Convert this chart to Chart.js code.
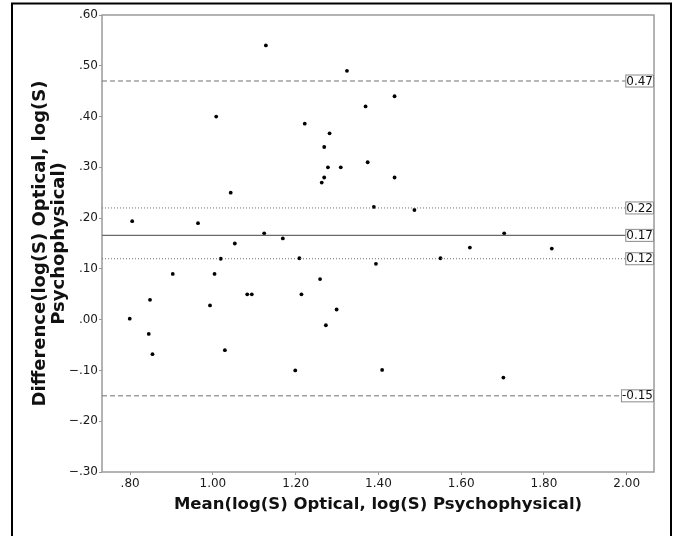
<!DOCTYPE html>
<html>
<head>
<meta charset="utf-8">
<script src="https://cdn.jsdelivr.net/npm/chart.js@4.4.0/dist/chart.umd.min.js"></script>
<style>
  html, body { margin: 0; padding: 0; background: #fff; }
  #wrap { width: 677px; height: 536px; }
</style>
</head>
<body>
<div id="wrap"><canvas id="baChart" width="677" height="536"></canvas></div>
<script>
// mean of the two methods (x) and their difference (y)
const meanVals = [
    1.128, 1.008, 1.043, 0.805, 0.964, 1.124, 1.053, 1.169,
    1.324, 1.439, 1.369, 1.222, 1.282, 1.269, 1.374, 1.278, 1.309, 1.269, 1.439, 1.263, 1.389, 1.487,
    1.704, 1.621, 1.819, 1.550, 1.394,
    1.019, 0.903, 1.004, 0.848, 1.083, 1.094, 0.993, 0.799, 0.845, 0.854, 1.029,
    1.209, 1.259, 1.214, 1.299, 1.273, 1.199, 1.409, 1.702
];
const diffVals = [
    0.540, 0.400, 0.250, 0.194, 0.190, 0.170, 0.150, 0.160,
    0.490, 0.440, 0.420, 0.386, 0.367, 0.340, 0.310, 0.300, 0.300, 0.280, 0.280, 0.270, 0.222, 0.216,
    0.170, 0.142, 0.140, 0.121, 0.110,
    0.120, 0.090, 0.090, 0.039, 0.050, 0.050, 0.028, 0.002, -0.028, -0.068, -0.060,
    0.121, 0.080, 0.050, 0.020, -0.011, -0.100, -0.099, -0.114
];

// reference lines: upper LoA, upper CI, mean, lower CI, lower LoA
const refValues = [0.47, 0.22, 0.166, 0.12, -0.15];
const refLabels = ['0.47', '0.22', '0.17', '0.12', '-0.15'];
const refStyles = ['dash', 'dot', 'solid', 'dot', 'dash'];

const xTicks = [0.8, 1.0, 1.2, 1.4, 1.6, 1.8, 2.0];
const yTicks = [-0.3, -0.2, -0.1, 0.0, 0.1, 0.2, 0.3, 0.4, 0.5, 0.6];
const xMin = 0.732, xMax = 2.066;
const yMin = -0.3, yMax = 0.6;

function fmt(v) {
    const s = Math.abs(v).toFixed(2);
    const t = s.startsWith('0') ? s.slice(1) : s;
    return (v < -1e-9 ? '\u2212' : '') + t;
}

const points = meanVals.map((x, i) => ({ x, y: diffVals[i] }));

const refSets = refValues.map((v, i) => ({
    type: 'line',
    data: [{ x: xMin, y: v }, { x: xMax, y: v }],
    borderColor: refStyles[i] === 'solid' ? '#6a6a6a' : '#707070',
    borderWidth: refStyles[i] === 'solid' ? 1.3 : 1,
    borderDash: refStyles[i] === 'dash' ? [5, 3] : (refStyles[i] === 'dot' ? [1, 2] : []),
    pointRadius: 0,
    fill: false
}));

const framePlugin = {
    id: 'frame',
    beforeDatasetsDraw(chart) {
        const { ctx, chartArea: a } = chart;
        ctx.save();
        ctx.strokeStyle = '#9a9a9a';
        ctx.lineWidth = 1.5;
        ctx.strokeRect(a.left, a.top, a.right - a.left, a.bottom - a.top);
        ctx.restore();
    },
    afterDraw(chart) {
        const ctx = chart.ctx;
        ctx.save();
        ctx.strokeStyle = '#000';
        ctx.lineWidth = 2;
        ctx.strokeRect(12, 3.5, 659, 600);
        ctx.restore();
    }
};

const refLabelPlugin = {
    id: 'refLabels',
    afterDatasetsDraw(chart) {
        const { ctx, chartArea: a, scales: { y } } = chart;
        ctx.save();
        ctx.font = '12px "DejaVu Sans"';
        ctx.textBaseline = 'middle';
        ctx.textAlign = 'left';
        refValues.forEach((v, i) => {
            const py = y.getPixelForValue(v);
            const w = ctx.measureText(refLabels[i]).width + 2;
            const h = 13;
            const bx = a.right - w;
            ctx.fillStyle = '#fff';
            ctx.fillRect(bx, py - h / 2, w, h);
            ctx.strokeStyle = '#8a8a8a';
            ctx.lineWidth = 1;
            ctx.strokeRect(bx + 0.5, py - h / 2 + 0.5, w - 1, h - 1);
            ctx.fillStyle = '#111';
            ctx.fillText(refLabels[i], bx + 1, py + 0.5);
        });
        ctx.restore();
    }
};

new Chart(document.getElementById('baChart'), {
    type: 'scatter',
    data: {
        datasets: [
            ...refSets,
            {
                data: points,
                pointRadius: 1.9,
                pointBackgroundColor: '#000',
                pointBorderWidth: 0,
                showLine: false
            }
        ]
    },
    options: {
        responsive: false,
        animation: false,
        devicePixelRatio: 1,
        layout: { padding: { left: 0, right: 23, top: 15, bottom: 0 } },
        plugins: { legend: { display: false }, tooltip: { enabled: false } },
        scales: {
            x: {
                type: 'linear',
                min: xMin,
                max: xMax,
                afterBuildTicks: s => { s.ticks = xTicks.map(v => ({ value: v })); },
                afterFit: s => { s.height = 64; },
                grid: { drawOnChartArea: false, tickLength: 3, color: '#9a9a9a' },
                border: { display: false },
                ticks: {
                    callback: v => v.toFixed(2).replace(/^0/, ''),
                    font: { family: 'DejaVu Sans', size: 12 },
                    color: '#1a1a1a',
                    padding: 2,
                    maxRotation: 0,
                    autoSkip: false
                },
                title: {
                    display: true,
                    text: 'Mean(log(S) Optical, log(S) Psychophysical)',
                    font: { family: 'DejaVu Sans', size: 16.5, weight: 'bold', lineHeight: 1.1 },
                    color: '#111',
                    padding: { top: 0, bottom: 22 }
                }
            },
            y: {
                type: 'linear',
                min: yMin,
                max: yMax,
                afterBuildTicks: s => { s.ticks = yTicks.map(v => ({ value: v })); },
                afterFit: s => { s.width = 102; },
                grid: { drawOnChartArea: false, tickLength: 3, color: '#9a9a9a' },
                border: { display: false },
                ticks: {
                    callback: v => fmt(v),
                    font: { family: 'DejaVu Sans', size: 12 },
                    color: '#1a1a1a',
                    padding: 1,
                    autoSkip: false
                },
                title: {
                    display: true,
                    text: ['Difference(log(S) Optical, log(S)', 'Psychophysical)'],
                    font: { family: 'DejaVu Sans', size: 18, weight: 'bold', lineHeight: 1.1 },
                    color: '#111',
                    padding: { top: 30, bottom: 0 }
                }
            }
        }
    },
    plugins: [framePlugin, refLabelPlugin]
});
</script>
</body>
</html>
